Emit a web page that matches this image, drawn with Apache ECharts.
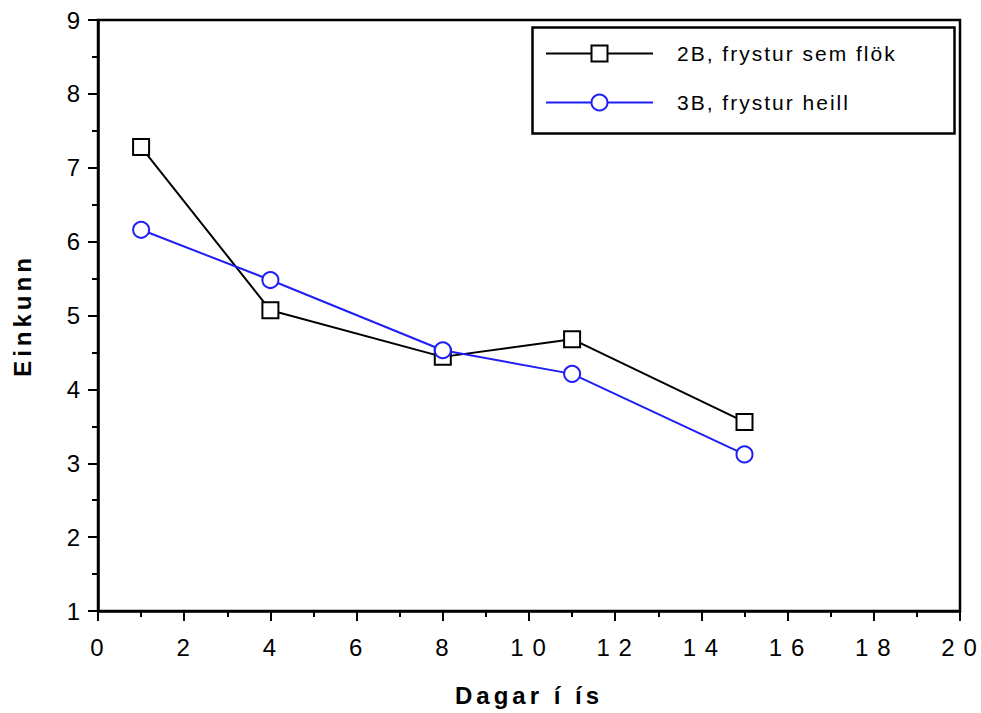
<!DOCTYPE html>
<html>
<head>
<meta charset="utf-8">
<script src="https://cdn.jsdelivr.net/npm/echarts@6/dist/echarts.min.js"></script>
<style>
html,body{margin:0;padding:0;background:#fff}
#c{width:981px;height:713px}
#c svg text{letter-spacing:2px}
#c svg text[style*="bold"]{letter-spacing:4px}
</style>
</head>
<body>
<div id="c"></div>
<script>
const days = [1, 4, 8, 11, 15];
const series2B = [7.28, 5.07, 4.44, 4.68, 3.56];
const series3B = [6.16, 5.48, 4.53, 4.21, 3.12];
const seriesNames = ['2B, frystur sem flök', '3B, frystur heill'];
const xTitle = 'Dagar í ís';
const yTitle = 'Einkunn';

const chart = echarts.init(document.getElementById('c'), null, { renderer: 'svg' });
const font = 'Liberation Sans, Arial, sans-serif';
const blue = '#1f1ff5';
chart.setOption({
  animation: false,
  backgroundColor: '#fff',
  grid: { left: 98, top: 20, width: 862, height: 591, show: true, borderColor: '#000', borderWidth: 2.5 },
  xAxis: {
    type: 'value', min: 0, max: 20, interval: 2,
    name: xTitle, nameLocation: 'middle', nameGap: 72,
    nameTextStyle: { fontFamily: font, fontSize: 24, fontWeight: 'bold', color: '#000' },
    axisLine: { lineStyle: { color: '#000', width: 2.5 } },
    axisTick: { show: true, inside: false, length: 10, lineStyle: { color: '#000', width: 2 } },
    minorTick: { show: true, splitNumber: 2, length: 6, lineStyle: { color: '#000', width: 2 } },
    splitLine: { show: false },
    axisLabel: { fontFamily: font, fontSize: 24, color: '#000', margin: 24,
      formatter: v => String(v).split('').join('\u2009') }
  },
  yAxis: {
    type: 'value', min: 1, max: 9, interval: 1,
    name: yTitle, nameLocation: 'middle', nameGap: 64, nameRotate: 90,
    nameTextStyle: { fontFamily: font, fontSize: 24, fontWeight: 'bold', color: '#000' },
    axisLine: { lineStyle: { color: '#000', width: 2.5 } },
    axisTick: { show: true, inside: false, length: 10, lineStyle: { color: '#000', width: 2 } },
    minorTick: { show: true, splitNumber: 2, length: 6, lineStyle: { color: '#000', width: 2 } },
    splitLine: { show: false },
    axisLabel: { fontFamily: font, fontSize: 24, color: '#000', margin: 16 }
  },
  legend: {
    orient: 'vertical', left: 540, top: 38, itemWidth: 107, itemHeight: 20, itemGap: 28,
    textStyle: { fontFamily: font, fontSize: 21, color: '#000', padding: [0, 0, 0, 19] },
    data: seriesNames
  },
  graphic: [{
    type: 'rect', left: 530, top: 25, shape: { width: 422, height: 106 },
    style: { fill: null, stroke: '#000', lineWidth: 2.5 }, z: 100
  }],
  series: [
    { name: seriesNames[0], type: 'line', data: days.map((d, i) => [d, series2B[i]]),
      symbol: 'rect', symbolSize: 16, color: '#000',
      lineStyle: { color: '#000', width: 2 },
      itemStyle: { color: '#fff', borderColor: '#000', borderWidth: 2 } },
    { name: seriesNames[1], type: 'line', data: days.map((d, i) => [d, series3B[i]]),
      symbol: 'circle', symbolSize: 16, color: blue,
      lineStyle: { color: blue, width: 2 },
      itemStyle: { color: '#fff', borderColor: blue, borderWidth: 2 } }
  ]
});
</script>
</body>
</html>
